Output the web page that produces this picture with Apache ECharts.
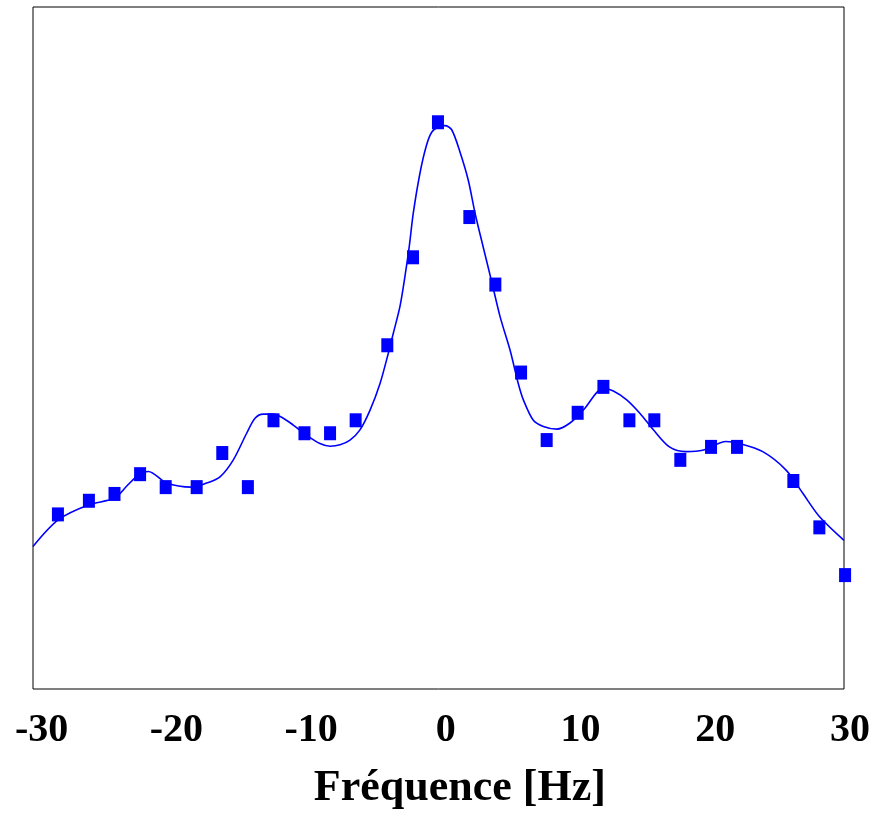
<!DOCTYPE html>
<html>
<head>
<meta charset="utf-8">
<script src="https://cdn.jsdelivr.net/npm/echarts@6/dist/echarts.min.js"></script>
<style>
html,body{margin:0;padding:0;background:#fff;}
#chart{width:876px;height:816px;}
</style>
</head>
<body>
<div id="chart"></div>
<script>
// Measured points (frequency in Hz, amplitude in arbitrary units 0-100)
var pointFreq = [-28.8,-26.5,-24.6,-22.7,-20.8,-18.5,-16.6,-14.7,-12.8,-10.5,-8.6,-6.7,-4.35,-2.44,-0.59,1.74,3.67,5.58,7.48,9.78,11.69,13.62,15.47,17.4,19.68,21.61,25.79,27.72,29.63];
var pointAmp  = [25.6,27.6,28.6,31.5,29.6,29.6,34.6,29.6,39.4,37.5,37.5,39.4,50.4,63.3,83.1,69.2,59.3,46.4,36.5,40.5,44.3,39.4,39.4,33.6,35.5,35.5,30.5,23.7,16.7];

// Fitted curve
var curveFreq = [-30.65,-28.78,-26.5,-24.59,-23.67,-22.69,-22.09,-20.73,-18.87,-17.76,-16.77,-15.78,-14.79,-14.17,-13.56,-12.81,-12.07,-11.33,-10.33,-9.35,-8.6,-7.86,-7.12,-6.38,-5.63,-4.89,-4.28,-3.90,-3.41,-3.04,-2.72,-2.42,-1.92,-1.43,-1.03,-0.56,-0.07,0.43,1.05,1.66,2.16,2.78,3.40,4.02,4.76,5.37,5.75,6.49,7.23,8.23,9.21,10.2,11.69,12.43,13.42,14.41,15.4,16.59,17.82,19.06,20.79,21.78,23.52,25.25,26.49,27.72,29.55];
var curveAmp  = [20.9,24.8,27.0,28.0,29.8,31.6,31.9,30.2,29.6,30.2,31.1,33.6,37.5,39.7,40.3,40.3,39.7,38.7,37.2,36.0,35.6,35.8,36.5,38.0,40.9,44.8,49.2,52.2,56.1,60.5,64.9,69.8,75.7,79.8,81.7,82.4,82.6,82.0,78.7,74.6,69.8,64.7,59.7,54.6,49.7,44.8,42.4,39.4,38.5,38.1,39.0,40.9,44.1,43.7,42.4,40.4,38.0,35.5,34.8,35.0,36.3,36.0,34.8,32.1,28.7,25.3,21.8];

// Tick labels
var tickValues = [-30,-20,-10,0,10,20,30];
var xTitle = 'Fréquence [Hz]';

var chart = echarts.init(document.getElementById('chart'), null, {renderer:'canvas'});
var font = '"Liberation Serif","Times New Roman",serif';

function zip(a,b){ return a.map(function(v,i){ return [v,b[i]]; }); }

chart.setOption({
  animation:false,
  backgroundColor:'#fff',
  grid:[
    {left:33, right:32, top:7, bottom:127, show:true, borderColor:'#000', borderWidth:1, backgroundColor:'transparent'},
    {left:41.7, right:26, top:7, bottom:127, show:false}
  ],
  xAxis:[
    {gridIndex:0, type:'value', min:-30.65, max:29.55,
     axisLine:{show:false}, axisTick:{show:false}, axisLabel:{show:false}, splitLine:{show:false}},
    {gridIndex:1, type:'value', min:tickValues[0], max:tickValues[tickValues.length-1], interval:10,
     axisLine:{show:false}, axisTick:{show:false}, splitLine:{show:false},
     axisLabel:{show:true, margin:24, color:'#000', fontFamily:font, fontWeight:'bold', fontSize:40,
       showMinLabel:true, showMaxLabel:true},
     name:xTitle, nameLocation:'middle', nameGap:80,
     nameTextStyle:{color:'#000', fontFamily:font, fontWeight:'bold', fontSize:44, padding:[0,0,0,28]}}
  ],
  yAxis:[
    {gridIndex:0, type:'value', min:0, max:100, show:false},
    {gridIndex:1, type:'value', min:0, max:100, show:false}
  ],
  series:[
    {type:'line', xAxisIndex:0, yAxisIndex:0, data:zip(curveFreq,curveAmp), smooth:0.3,
     showSymbol:false, symbol:'none', lineStyle:{color:'#0000ff', width:1.6}, z:2},
    {type:'scatter', xAxisIndex:0, yAxisIndex:0, data:zip(pointFreq,pointAmp), clip:false,
     symbol:'rect', symbolSize:[12,14], itemStyle:{color:'#0000ff', opacity:1}, z:3}
  ]
});
</script>
</body>
</html>
